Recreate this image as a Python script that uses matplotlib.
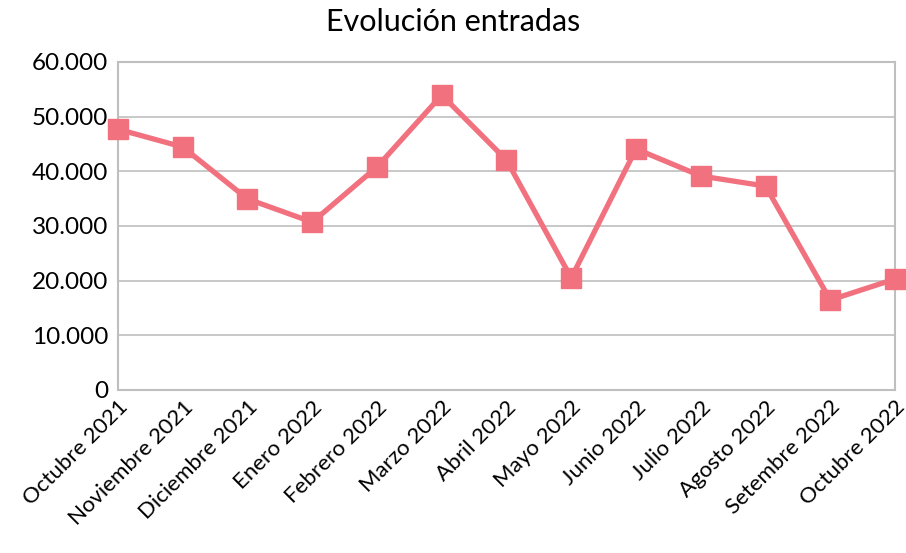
import matplotlib
matplotlib.use('Agg')
import matplotlib.pyplot as plt
from matplotlib.ticker import FuncFormatter

plt.rcParams['font.family'] = ['Lato', 'DejaVu Sans']

meses = ['Octubre 2021', 'Noviembre 2021', 'Diciembre 2021', 'Enero 2022',
         'Febrero 2022', 'Marzo 2022', 'Abril 2022', 'Mayo 2022', 'Junio 2022',
         'Julio 2022', 'Agosto 2022', 'Setembre 2022', 'Octubre 2022']
entradas = [47700, 44450, 34950, 30700, 40800, 53950, 42050, 20500, 44100,
            39150, 37300, 16450, 20300]

color = '#F2717F'
gris = '#BFBFBF'

fig = plt.figure(figsize=(9.06, 5.53), dpi=100)
ax = fig.add_axes([0.1302, 0.2948, 0.8577, 0.5931])

x = list(range(len(meses)))
ax.plot(x, entradas, color=color, linewidth=3.8, marker='s', markersize=14,
        clip_on=False, zorder=3)

ax.set_xlim(0, len(meses) - 1)
ax.set_ylim(0, 60000)
ax.set_yticks(range(0, 60001, 10000))
ax.yaxis.set_major_formatter(FuncFormatter(lambda v, p: f'{int(v):,}'.replace(',', '.')))
ax.grid(axis='y', color=gris, linewidth=1.2)
ax.set_axisbelow(True)

ax.set_xticks(x)
ax.set_xticklabels(meses, rotation=45, ha='right', va='top', rotation_mode='anchor')
ax.tick_params(axis='both', length=0)
ax.tick_params(axis='x', pad=5, labelsize=16)
ax.tick_params(axis='y', pad=7, labelsize=17.5)

for s in ax.spines.values():
    s.set_color(gris)
    s.set_linewidth(1.5)

fig.text(0.5, 0.96, 'Evolución entradas', ha='center', va='center', fontsize=22)

fig.savefig('out.png', dpi=100)
